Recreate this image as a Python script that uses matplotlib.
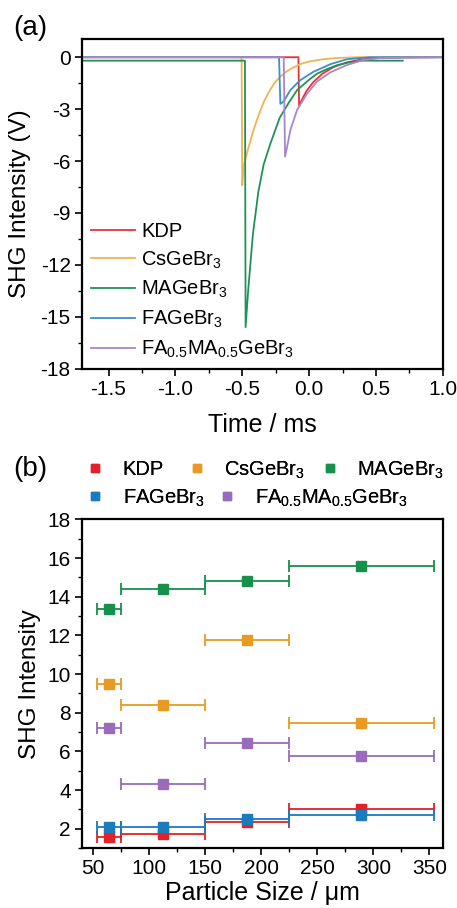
import matplotlib
matplotlib.use("Agg")
import matplotlib.pyplot as plt
from matplotlib.lines import Line2D
from matplotlib.ticker import MultipleLocator

plt.rcParams['font.family'] = ['Liberation Sans', 'DejaVu Sans']
plt.rcParams['mathtext.fontset'] = 'custom'
plt.rcParams['mathtext.rm'] = 'Liberation Sans'
plt.rcParams['mathtext.it'] = 'Liberation Sans:italic'
plt.rcParams['mathtext.bf'] = 'Liberation Sans:bold'
plt.rcParams['axes.unicode_minus'] = False

# ---- (a) SHG traces, (time ms, signal V) ----
kdp_t = [-1.7, -0.08, -0.075, -0.05, -0.02, 0.03, 0.1, 0.18, 0.28, 0.4, 0.55, 1.0]
kdp_v = [0.0, 0.0, -2.8, -2.4, -1.95, -1.45, -0.95, -0.58, -0.3, -0.12, -0.02, 0.0]

cs_t = [-1.7, -0.505, -0.5, -0.49, -0.46, -0.42, -0.38, -0.34, -0.30, -0.26, -0.22,
        -0.17, -0.12, -0.06, 0.0, 0.1, 0.2, 0.35, 1.0]
cs_v = [0.0, 0.0, -7.4, -6.3, -5.4, -4.3, -3.4, -2.6, -2.0, -1.5, -1.15,
        -0.83, -0.6, -0.38, -0.25, -0.12, -0.05, 0.0, 0.0]

ma_t = [-1.7, -0.48, -0.475, -0.455, -0.42, -0.38, -0.34, -0.29, -0.22, -0.15,
        -0.09, 0.0, 0.06, 0.13, 0.21, 0.3, 0.4, 0.7]
ma_v = [-0.2, -0.2, -15.6, -13.4, -10.2, -7.8, -6.2, -5.0, -3.5, -2.6,
        -1.9, -1.3, -0.95, -0.7, -0.46, -0.3, -0.2, -0.2]

fa_t = [-1.7, -0.225, -0.215, -0.19, -0.14, -0.07, 0.03, 0.16, 0.28, 0.45, 1.0]
fa_v = [0.0, 0.0, -2.7, -2.55, -1.9, -1.35, -0.85, -0.4, -0.12, 0.0, 0.0]

mix_t = [-1.7, -0.19, -0.18, -0.165, -0.14, -0.09, -0.015, 0.06, 0.16, 0.28, 0.4, 0.53, 1.0]
mix_v = [0.0, 0.0, -5.75, -5.2, -4.2, -3.05, -2.1, -1.4, -0.87, -0.46, -0.17, -0.05, 0.0]

# ---- (b) SHG intensity vs particle size ----
size_lo = [54, 75, 150, 225]
size_hi = [75, 150, 225, 354]
size_mid = [64.5, 112.5, 187.5, 289]
shg_kdp = [1.58, 1.73, 2.36, 3.02]
shg_cs = [9.5, 8.4, 11.75, 7.46]
shg_ma = [13.38, 14.4, 14.8, 15.6]
shg_fa = [2.08, 2.08, 2.48, 2.73]
shg_mix = [7.2, 4.32, 6.46, 5.78]

labels = ['KDP', r'CsGeBr$_{\mathrm{3}}$', r'MAGeBr$_{\mathrm{3}}$', r'FAGeBr$_{\mathrm{3}}$',
          r'FA$_{\mathrm{0.5}}$MA$_{\mathrm{0.5}}$GeBr$_{\mathrm{3}}$']
line_colors = ['#e8303a', '#f0b452', '#1f9258', '#3a8fd0', '#a886cc']
dot_colors = ['#e42128', '#e89a22', '#16904a', '#1a7bbd', '#9a6bba']

fig = plt.figure(figsize=(4.57, 9.08), dpi=100)
ax1 = fig.add_axes([0.179, 0.594, 0.790, 0.363])
ax2 = fig.add_axes([0.179, 0.066, 0.790, 0.362])

traces = [(kdp_t, kdp_v), (cs_t, cs_v), (ma_t, ma_v), (fa_t, fa_v), (mix_t, mix_v)]
for (t, v), c, lab in zip(traces, line_colors, labels):
    ax1.plot(t, v, color=c, lw=1.3, label=lab)

ax1.set_xlim(-1.7, 1.0)
ax1.set_ylim(-18, 1.05)
ax1.xaxis.set_major_locator(MultipleLocator(0.5))
ax1.xaxis.set_minor_locator(MultipleLocator(0.25))
ax1.yaxis.set_major_locator(MultipleLocator(3))
ax1.yaxis.set_minor_locator(MultipleLocator(1.5))
ax1.set_xlabel('Time / ms', fontsize=18)
ax1.set_ylabel('SHG Intensity (V)', fontsize=17.5)
ax1.yaxis.set_label_coords(-0.14, 0.5)
ax1.xaxis.set_label_coords(0.5, -0.135)
ax1.legend(loc='upper left', bbox_to_anchor=(0.025, 0.445), frameon=False, fontsize=14.5,
           handlelength=2.2, handletextpad=0.3, labelspacing=0.42, borderpad=0, borderaxespad=0)

series = [shg_kdp, shg_cs, shg_ma, shg_fa, shg_mix]
xerr = [[m - lo for m, lo in zip(size_mid, size_lo)], [hi - m for m, hi in zip(size_mid, size_hi)]]
for vals, c in zip(series, dot_colors):
    ax2.errorbar(size_mid, vals, xerr=xerr, fmt='s', color=c, ms=6.5, lw=1.3,
                 capsize=4, capthick=1.3, elinewidth=1.3)

ax2.set_xlim(40, 362)
ax2.set_ylim(1, 18)
ax2.xaxis.set_major_locator(MultipleLocator(50))
ax2.xaxis.set_minor_locator(MultipleLocator(25))
ax2.yaxis.set_major_locator(MultipleLocator(2))
ax2.yaxis.set_minor_locator(MultipleLocator(1))
ax2.set_xlabel('Particle Size / μm', fontsize=18)
ax2.set_ylabel('SHG Intensity', fontsize=17.5)
ax2.yaxis.set_label_coords(-0.113, 0.5)
ax2.xaxis.set_label_coords(0.5, -0.1)

# legend entries of (b), placed one by one like the original
leg_pos = [(0.191, 0.4824), (0.414, 0.4824), (0.705, 0.4824), (0.191, 0.4515), (0.480, 0.4515)]
for c, lab, (lx, ly) in zip(dot_colors, labels, leg_pos):
    h = Line2D([], [], marker='s', ls='none', color=c, ms=5.5)
    lg = fig.legend(handles=[h], labels=[lab], loc='center left', bbox_to_anchor=(lx, ly),
                    frameon=False, fontsize=14.5, handlelength=0.8, handletextpad=0.95,
                    borderpad=0, borderaxespad=0)
    fig.add_artist(lg)

for ax in (ax1, ax2):
    ax.tick_params(which='major', direction='out', length=5, width=1.2, labelsize=15, pad=3)
    ax.tick_params(which='minor', direction='out', length=3, width=1.0)
    for s in ax.spines.values():
        s.set_linewidth(1.6)

fig.text(0.028, 0.969, '(a)', fontsize=20, va='center')
fig.text(0.028, 0.484, '(b)', fontsize=20, va='center')

fig.savefig('out.png', dpi=100)
